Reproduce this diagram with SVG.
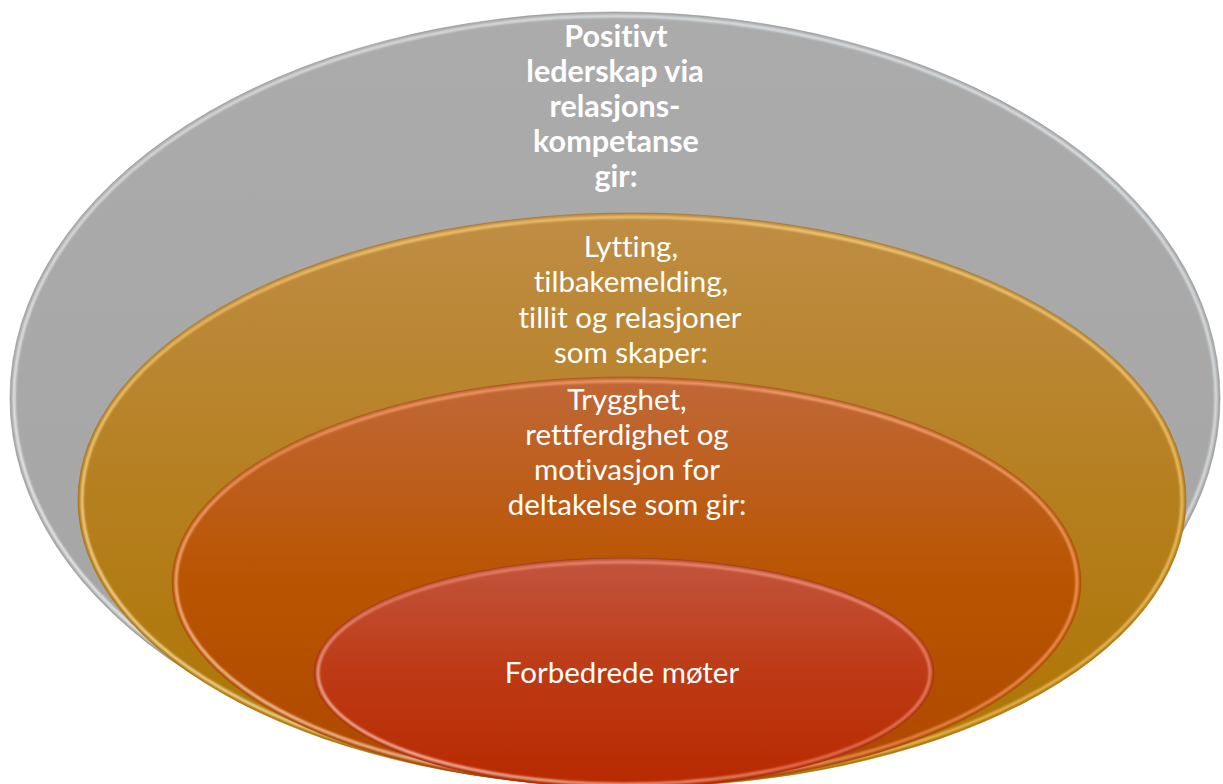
<svg xmlns="http://www.w3.org/2000/svg" width="1223" height="784" viewBox="0 0 1223 784">
  <style>
    .lbl { font-family: Lato, "Liberation Sans", sans-serif; font-size: 29.5px; fill: #ffffff; text-anchor: middle; font-variant-ligatures: none; font-feature-settings: "liga" 0; }
    .bold { font-weight: bold; font-size: 30.5px; }
    .rim { fill: none; stroke-width: 2.6; filter: url(#soft); }
    .edge { fill: none; stroke-width: 1; stroke-opacity: 0.55; }
  </style>
  <defs>
    <filter id="soft" x="-5%" y="-5%" width="110%" height="110%">
      <feGaussianBlur stdDeviation="1"/>
    </filter>

    <!-- body fills, top to bottom -->
    <linearGradient id="fillGray" x1="0" y1="0" x2="0" y2="1">
      <stop offset="0" stop-color="#ababab"/>
      <stop offset="1" stop-color="#a5a5a5"/>
    </linearGradient>
    <linearGradient id="fillGold" x1="0" y1="0" x2="0" y2="1">
      <stop offset="0" stop-color="#bf8d45"/>
      <stop offset="0.5" stop-color="#b57f1e"/>
      <stop offset="1" stop-color="#ad7400"/>
    </linearGradient>
    <linearGradient id="fillOrange" x1="0" y1="0" x2="0" y2="1">
      <stop offset="0" stop-color="#c06838"/>
      <stop offset="0.5" stop-color="#b95400"/>
      <stop offset="1" stop-color="#ae4800"/>
    </linearGradient>
    <linearGradient id="fillRed" x1="0" y1="0" x2="0" y2="1">
      <stop offset="0" stop-color="#c2553e"/>
      <stop offset="0.5" stop-color="#bd3a14"/>
      <stop offset="1" stop-color="#b82900"/>
    </linearGradient>

    <!-- bevel highlights: brightest at lower left, softer along the top -->
    <linearGradient id="rimGray" x1="0" y1="1" x2="1" y2="0">
      <stop offset="0" stop-color="#ffffff" stop-opacity="1"/>
      <stop offset="0.45" stop-color="#eeeeee" stop-opacity="0.75"/>
      <stop offset="1" stop-color="#e6f0f8" stop-opacity="0.9"/>
    </linearGradient>
    <linearGradient id="rimGold" x1="0" y1="1" x2="1" y2="0">
      <stop offset="0" stop-color="#fff6d0" stop-opacity="1"/>
      <stop offset="0.45" stop-color="#ffce70" stop-opacity="0.8"/>
      <stop offset="1" stop-color="#ffd880" stop-opacity="0.9"/>
    </linearGradient>
    <linearGradient id="rimOrange" x1="0" y1="1" x2="1" y2="0">
      <stop offset="0" stop-color="#fff0e0" stop-opacity="1"/>
      <stop offset="0.45" stop-color="#ff9f6a" stop-opacity="0.8"/>
      <stop offset="1" stop-color="#ffb080" stop-opacity="0.9"/>
    </linearGradient>
    <linearGradient id="rimRed" x1="0" y1="1" x2="1" y2="0">
      <stop offset="0" stop-color="#fff0e8" stop-opacity="1"/>
      <stop offset="0.45" stop-color="#f08a6e" stop-opacity="0.8"/>
      <stop offset="1" stop-color="#f5a08a" stop-opacity="0.9"/>
    </linearGradient>

    <clipPath id="clipGray"><ellipse cx="615" cy="398" rx="605" ry="386"/></clipPath>
    <clipPath id="clipGold"><ellipse cx="632" cy="500" rx="554" ry="287"/></clipPath>
    <clipPath id="clipOrange"><ellipse cx="626.5" cy="582" rx="454.5" ry="205"/></clipPath>
    <clipPath id="clipRed"><ellipse cx="624" cy="673" rx="310" ry="115"/></clipPath>
  </defs>

  <rect width="1223" height="784" fill="#ffffff"/>

  <!-- outermost ring -->
  <g id="ring-leadership">
    <ellipse cx="615" cy="398" rx="605" ry="386" fill="url(#fillGray)"/>
    <g clip-path="url(#clipGray)">
      <ellipse class="rim" cx="615" cy="398" rx="601" ry="382" stroke="url(#rimGray)"/>
    </g>
    <ellipse class="edge" cx="615" cy="398" rx="605" ry="386" stroke="#8a8a8a"/>
    <text class="lbl bold" x="616" y="47">Positivt</text>
    <text class="lbl bold" x="615" y="82">lederskap via</text>
    <text class="lbl bold" x="615" y="117">relasjons-</text>
    <text class="lbl bold" x="616" y="152">kompetanse</text>
    <text class="lbl bold" x="616" y="187">gir:</text>
  </g>

  <!-- second ring -->
  <g id="ring-relations">
    <ellipse cx="632" cy="500" rx="554" ry="287" fill="url(#fillGold)"/>
    <g clip-path="url(#clipGold)">
      <ellipse class="rim" cx="632" cy="500" rx="550" ry="283" stroke="url(#rimGold)"/>
    </g>
    <ellipse class="edge" cx="632" cy="500" rx="554" ry="287" stroke="#9a6a10"/>
    <text class="lbl" x="631" y="257">Lytting,</text>
    <text class="lbl" x="631" y="292">tilbakemelding,</text>
    <text class="lbl" x="630" y="328">tillit og relasjoner</text>
    <text class="lbl" x="631" y="363">som skaper:</text>
  </g>

  <!-- third ring -->
  <g id="ring-safety">
    <ellipse cx="626.5" cy="582" rx="454.5" ry="205" fill="url(#fillOrange)"/>
    <g clip-path="url(#clipOrange)">
      <ellipse class="rim" cx="626.5" cy="582" rx="450.5" ry="201" stroke="url(#rimOrange)"/>
    </g>
    <ellipse class="edge" cx="626.5" cy="582" rx="454.5" ry="205" stroke="#9c4a10"/>
    <text class="lbl" x="627" y="410">Trygghet,</text>
    <text class="lbl" x="627" y="445">rettferdighet og</text>
    <text class="lbl" x="627" y="480">motivasjon for</text>
    <text class="lbl" x="627" y="515">deltakelse som gir:</text>
  </g>

  <!-- core -->
  <g id="core-meetings">
    <ellipse cx="624" cy="673" rx="310" ry="115" fill="url(#fillRed)"/>
    <g clip-path="url(#clipRed)">
      <ellipse class="rim" cx="624" cy="673" rx="306" ry="111" stroke="url(#rimRed)"/>
    </g>
    <ellipse class="edge" cx="624" cy="673" rx="310" ry="115" stroke="#8a3020"/>
    <text class="lbl" x="622" y="683">Forbedrede møter</text>
  </g>
</svg>
